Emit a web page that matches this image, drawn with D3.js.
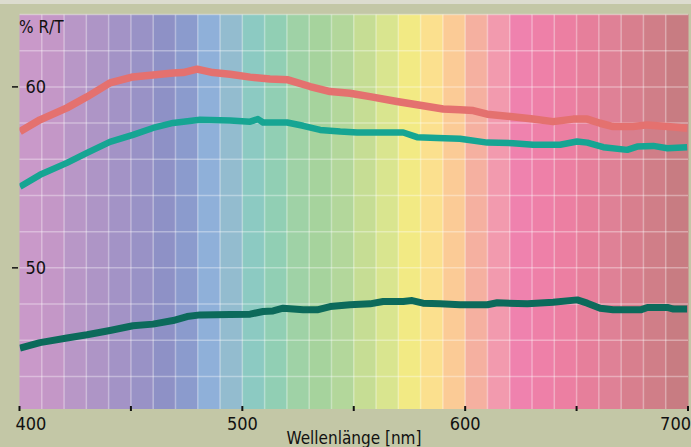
<!DOCTYPE html>
<html>
<head>
<meta charset="utf-8">
<script src="https://cdn.jsdelivr.net/npm/d3@7"></script>
<style>
  html, body { margin: 0; padding: 0; background: #c3c7a6; }
  svg { display: block; }
  text { font-family: "Liberation Sans Narrow", "DejaVu Sans Condensed", "Arial Narrow", sans-serif; fill: #111; }
</style>
</head>
<body>
<script>
// ---- data ----
const bandStartsNm = [400,410,420,430,440,450,460,470,480,490,500,510,520,530,540,550,560,570,580,590,600,610,620,630,640,650,660,670,680,690];
const bandColors = ["#c999c9","#c497c7","#b897c7","#ae95c6","#a393c6","#9992c6","#8e91c6","#8b9bcd","#8fb0d9","#93bccf",
                    "#8ccac2","#91cfb4","#9fd2a6","#a6d39d","#b3d79b","#c6dd94","#d9e58f","#f2ea84","#fbe08e","#fbcb96",
                    "#f5b0a0","#f29aae","#ef82ae","#ee80a8","#ec7fa2","#e67f9b","#df8196","#d87f8e","#d07e88","#c87c82"];
const xTickValues = [400,450,500,550,600,650,700];
const xTickLabels = ["400","500","600","700"];
const yTickValues = [50,60];
const yGridValues = [44,46,48,50,52,54,56,58,60,62,64];

const seriesRed = [[400.2,57.53],[409.2,58.18],[421.3,58.84],[430.3,59.45],[440.6,60.22],[450.9,60.55],[459.9,60.66],
  [468.9,60.77],[473.4,60.79],[479.7,60.98],[486.8,60.79],[494.5,60.70],[503.5,60.54],[512.4,60.44],[520.5,60.39],
  [530.4,60.02],[539.4,59.74],[548.3,59.65],[557.3,59.46],[569.4,59.19],[578.4,59.01],[590.1,58.78],[597.7,58.73],
  [603.6,58.69],[609.9,58.49],[620.2,58.36],[630.5,58.22],[639.5,58.08],[648.5,58.22],[654.8,58.22],[660.6,57.99],
  [666.4,57.81],[675.4,57.81],[681.7,57.90],[690.7,57.81],[699.6,57.72]];
const seriesTeal = [[400.2,54.49],[409.2,55.14],[421.3,55.80],[430.3,56.35],[440.6,56.96],[450.9,57.35],[459.9,57.73],
  [468.9,58.01],[481.0,58.18],[494.5,58.14],[503.5,58.08],[507.0,58.22],[509.3,58.03],[520.1,58.03],[527.3,57.85],
  [534.9,57.62],[543.9,57.53],[551.5,57.48],[561.9,57.48],[572.2,57.48],[578.4,57.22],[587.4,57.17],[597.7,57.13],
  [609.9,56.92],[621.5,56.89],[630.5,56.80],[642.6,56.80],[650.2,56.98],[654.8,56.92],[662.0,56.67],[672.7,56.52],
  [677.2,56.70],[684.4,56.74],[690.7,56.61],[699.6,56.67]];
const seriesDark = [[400.2,45.56],[409.2,45.87],[421.3,46.12],[430.3,46.30],[440.6,46.54],[450.9,46.80],[459.9,46.89],
  [468.9,47.09],[475.2,47.31],[481.0,47.40],[494.5,47.42],[503.5,47.44],[509.3,47.59],[513.8,47.62],[518.3,47.77],
  [527.3,47.68],[533.6,47.68],[539.4,47.86],[548.3,47.96],[557.3,48.01],[563.2,48.14],[572.2,48.14],[576.2,48.19],
  [581.1,48.05],[588.8,48.01],[597.7,47.96],[609.9,47.96],[614.4,48.07],[627.9,48.01],[639.5,48.10],[650.3,48.23],
  [654.8,48.05],[660.6,47.77],[666.4,47.68],[678.7,47.68],[681.8,47.81],[690.7,47.81],[693.5,47.72],[699.6,47.72]];
const seriesColors = ["#e4716f","#16a593","#0c6a5b"];
const seriesWidths = [7.5, 6.5, 7];

// ---- layout ----
const W = 691, H = 447;
const plot = {left: 19.5, right: 688, top: 14.5, bottom: 409};

const x = d3.scaleLinear().domain([400,700]).range([plot.left, plot.right]);
const y = d3.scaleLinear().domain([42.2,64.0]).range([plot.bottom, plot.top]);

const svg = d3.select("body").append("svg").attr("width", W).attr("height", H);

// outer background + light top strip
svg.append("rect").attr("width", W).attr("height", H).attr("fill", "#c3c7a6");
svg.append("rect").attr("width", W).attr("height", 4).attr("fill", "#dcdccf");

const defs = svg.append("defs");
defs.append("clipPath").attr("id","plotclip").append("rect")
  .attr("x", plot.left).attr("y", plot.top).attr("width", plot.right-plot.left).attr("height", plot.bottom-plot.top);

// spectral bands
const bands = svg.append("g");
bands.selectAll("rect").data(bandStartsNm).join("rect")
  .attr("x", d => x(d))
  .attr("y", plot.top)
  .attr("width", d => x(d+10) - x(d) + 0.5)
  .attr("height", plot.bottom - plot.top)
  .attr("fill", (d,i) => bandColors[i]);

// grid
const grid = svg.append("g").attr("stroke", "#ffffff").attr("stroke-opacity", 0.35).attr("stroke-width", 1.5);
grid.selectAll("line.v").data(bandStartsNm.slice(1)).join("line").attr("class","v")
  .attr("x1", d => x(d)).attr("x2", d => x(d)).attr("y1", plot.top).attr("y2", plot.bottom);
grid.selectAll("line.h").data(yGridValues).join("line").attr("class","h")
  .attr("x1", plot.left).attr("x2", plot.right).attr("y1", d => y(d)).attr("y2", d => y(d));

// lines
const line = d3.line().x(d => x(d[0])).y(d => y(d[1])).curve(d3.curveLinear);
const g = svg.append("g").attr("clip-path", "url(#plotclip)");
[seriesDark, seriesTeal, seriesRed].forEach((s, k) => {
  const idx = [2,1,0][k];
  g.append("path").datum(s).attr("d", line)
    .attr("fill", "none").attr("stroke", seriesColors[idx])
    .attr("stroke-width", seriesWidths[idx])
    .attr("stroke-linejoin", "round").attr("stroke-linecap", "butt");
});

// x ticks
svg.append("g").selectAll("line").data(xTickValues).join("line")
  .attr("x1", d => x(d)).attr("x2", d => x(d))
  .attr("y1", plot.bottom - 3).attr("y2", plot.bottom + 2)
  .attr("stroke", "#111").attr("stroke-width", 2);

// x tick labels
const xl = svg.append("g").attr("font-size", 18);
xTickLabels.forEach((t, i) => {
  const v = +t;
  const anchor = i === 0 ? "start" : (i === xTickLabels.length-1 ? "end" : "middle");
  const px = i === 0 ? x(v) - 4 : (i === xTickLabels.length-1 ? W : x(v));
  xl.append("text").attr("x", px).attr("y", 430).attr("text-anchor", anchor).text(t);
});
svg.append("text").attr("x", 354).attr("y", 444).attr("text-anchor", "middle")
  .attr("font-size", 17).text("Wellenlänge [nm]");

// y ticks
const yl = svg.append("g");
yl.selectAll("line").data(yTickValues).join("line")
  .attr("x1", 12).attr("x2", 18).attr("y1", d => y(d)).attr("y2", d => y(d))
  .attr("stroke", "#111").attr("stroke-width", 1.5);
yl.selectAll("text").data(yTickValues).join("text")
  .attr("x", 25.5).attr("y", d => y(d) + 6.5).attr("font-size", 18).text(d => d);

svg.append("text").attr("x", 19).attr("y", 33).attr("font-size", 17).text("% R/T");
</script>
</body>
</html>
